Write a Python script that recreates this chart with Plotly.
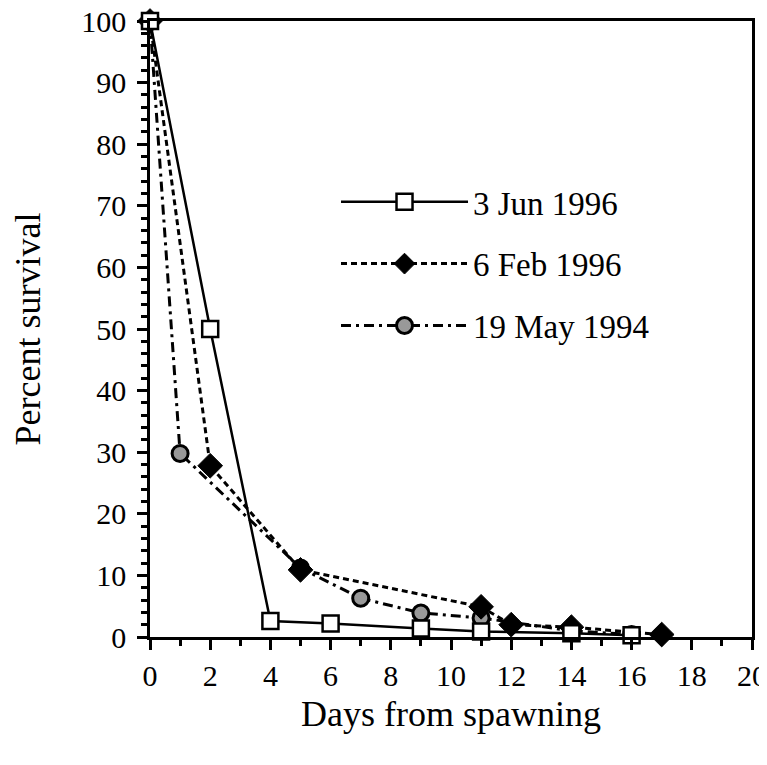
import plotly.graph_objects as go

days_jun96 = [0, 2, 4, 6, 9, 11, 14, 16]
surv_jun96 = [100, 50, 2.6, 2.2, 1.4, 0.9, 0.6, 0.3]

days_feb96 = [0, 2, 5, 11, 12, 14, 17]
surv_feb96 = [100, 27.8, 10.9, 4.9, 2.0, 1.6, 0.4]

days_may94 = [0, 1, 5, 7, 9, 11, 14, 16]
surv_may94 = [100, 29.8, 11.2, 6.3, 3.9, 3.1, 1.0, 0.4]

font_family = "Liberation Serif"

fig = go.Figure()

fig.add_trace(go.Scatter(
    x=days_may94, y=surv_may94, name="19 May 1994", mode="lines+markers",
    legendgroup="c", legendrank=3,
    line=dict(color="black", width=3, dash="10px,5px,3px,5px"),
    marker=dict(symbol="circle", size=16, color="#999999", line=dict(color="black", width=3)),
    cliponaxis=False))

fig.add_trace(go.Scatter(
    x=days_feb96, y=surv_feb96, name="6 Feb 1996", mode="lines+markers",
    legendgroup="b", legendrank=2,
    line=dict(color="black", width=3, dash="6px,4px"),
    marker=dict(symbol="diamond", size=19, color="black", line=dict(color="black", width=1)),
    cliponaxis=False))

fig.add_trace(go.Scatter(
    x=days_jun96, y=surv_jun96, name="3 Jun 1996", mode="lines+markers",
    legendgroup="a", legendrank=1,
    line=dict(color="black", width=2.5),
    marker=dict(symbol="square", size=16, color="white", line=dict(color="black", width=2.5)),
    cliponaxis=False))

fig.update_layout(
    width=759, height=757,
    margin=dict(l=142, r=15, t=13, b=128, autoexpand=False),
    paper_bgcolor="white", plot_bgcolor="white",
    font=dict(family=font_family, color="black", size=30),
    showlegend=True,
    legend=dict(
        x=0.309, y=0.752, xanchor="left", yanchor="top",
        traceorder="grouped",
        font=dict(family=font_family, size=33, color="black"),
        bgcolor="rgba(0,0,0,0)", itemwidth=127,
        tracegroupgap=16,
    ),
    xaxis=dict(
        range=[0, 20], tickmode="linear", tick0=0, dtick=2,
        ticks="outside", ticklen=10, tickwidth=2.5, tickcolor="black",
        minor=dict(dtick=1, ticks="outside", ticklen=6, tickwidth=2.5, tickcolor="black"),
        showline=True, linewidth=2.5, linecolor="black", mirror=True,
        showgrid=False, zeroline=False, automargin=False,
        ticklabeloverflow="allow",
        tickfont=dict(family=font_family, size=30),
        title=dict(text="Days from spawning", font=dict(family=font_family, size=36), standoff=11),
    ),
    yaxis=dict(
        range=[0, 100], tickmode="linear", tick0=0, dtick=10,
        ticks="outside", ticklen=10, tickwidth=2.5, tickcolor="black",
        minor=dict(dtick=2, ticks="outside", ticklen=6, tickwidth=2.5, tickcolor="black"),
        showline=True, linewidth=2.5, linecolor="black", mirror=True,
        showgrid=False, zeroline=False, automargin=False,
        ticklabeloverflow="allow", ticklabelstandoff=5,
        tickfont=dict(family=font_family, size=30),
        title=dict(text="Percent survival", font=dict(family=font_family, size=36), standoff=43),
    ),
)

fig.write_html("out.html")
